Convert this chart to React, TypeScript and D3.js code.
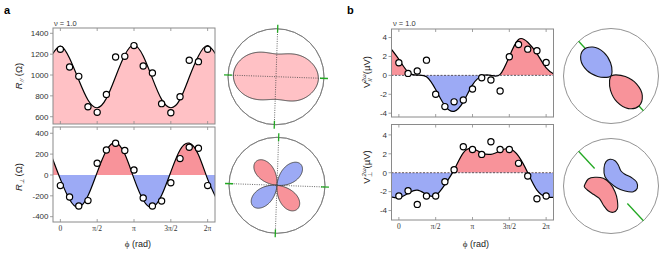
import * as d3 from "d3";

const PI = Math.PI;
const DEG = PI / 180;

// measured points sit at φ = k·π/8, the fitted curves are read on the same grid (one extra step each side)
const pointSteps = [0, 1, 2, 3, 4, 5, 6, 7, 8, 9, 10, 11, 12, 13, 14, 15, 16];
const curveSteps = [-1, 0, 1, 2, 3, 4, 5, 6, 7, 8, 9, 10, 11, 12, 13, 14, 15, 16, 17];

const phiTicks = [0, PI / 2, PI, (3 * PI) / 2, 2 * PI];
const phiTickLabels = ["0", "π/2", "π", "3π/2", "2π"];

const rParTicks = [600, 800, 1000, 1200, 1400];
const rPerpTicks = [-400, -200, 0, 200, 400];
const vTicks = [-4, -2, 0, 2, 4];

// panel a (Ω)
const rParPoints = [1246, 1077, 987, 696, 642, 814, 1173, 1179, 1282, 1086, 1019, 725, 638, 792, 1141, 1128, 1246];
const rParCurve = [1180, 1278, 1160, 952, 760, 686, 776, 984, 1192, 1288, 1182, 968, 766, 686, 766, 978, 1182, 1283, 1180];
const rPerpPoints = [-102, -211, -298, -246, 112, 240, 304, 234, 48, -221, -298, -250, -74, 157, 266, 256, -102];
const rPerpCurve = [190, -40, -235, -310, -200, 25, 235, 310, 200, -35, -240, -310, -195, 30, 240, 305, 195, -40, -235];

// panel b (µV)
const vParPoints = [1.33, 0.21, 0.46, 1.61, -2.0, -3.3, -2.8, -2.6, -1.44, -0.25, -0.49, -1.65, 1.96, 3.26, 2.77, 2.6, 1.37];
const vParCurve = [3.0, 1.7, 0.35, 0.02, -0.15, -1.5, -3.2, -3.8, -2.8, -1.0, -0.07, 0.0, 0.1, 2.0, 3.8, 3.5, 2.3, 0.8, 0.05];
const vPerpPoints = [-2.46, -1.9, -3.35, -2.46, -2.46, -0.95, 0.32, 2.75, 2.46, 1.94, 3.27, 2.46, 2.46, 0.99, -0.35, -2.75, -2.46];
const vPerpCurve = [-2.5, -2.65, -2.2, -1.85, -2.3, -2.4, -1.25, 0.3, 2.1, 2.55, 2.1, 1.95, 2.3, 2.55, 1.75, 0.0, -1.85, -2.55, -2.6];

// polar insets of panel b
const lobeOffsetsDeg = [-90, -75, -60, -45, -30, -15, 0, 15, 30, 45, 60, 75, 90];
const lobeShape = [0, 0.02, 0.12, 0.35, 0.65, 0.9, 1, 0.9, 0.65, 0.35, 0.12, 0.02, 0];
const vParLobeAxesDeg = [137, 313];
const vParLobeLengths = [3.8, 4.1];
const fieldAngleDeg = 133;
const vPerpBlueBean = [
  [-0.1, 2.67], [0.4, 2.53], [0.73, 2.1], [1.0, 1.5], [1.4, 1.17], [2.07, 0.83], [2.57, 0.37], [2.63, -0.23],
  [2.23, -0.57], [1.4, -0.5], [0.57, -0.17], [-0.1, 0.33], [-0.6, 0.93], [-0.7, 1.77], [-0.5, 2.43],
];
const vPerpRedBean = [
  [-2.6, 0.17], [-2.27, 0.7], [-1.6, 0.87], [-0.77, 0.77], [-0.1, 0.27], [0.4, -0.57], [0.63, -1.4], [0.63, -2.3],
  [0.23, -2.63], [-0.27, -2.5], [-0.77, -1.9], [-1.17, -1.23], [-1.77, -0.83], [-2.37, -0.4], [-2.67, -0.07],
];

const PINK = "#ffc1c5";
const RED = "#f8939a";
const BLUE = "#9caaf5";
const FRAME = "#8a8a8a";
const GREEN = "#22a822";
const phiDomain = [-0.314, 2 * PI + 0.314];

type Pt = [number, number];

// same natural spline that d3.curveNatural draws, so the polar insets follow the plotted fit
function naturalSpline(ys: number[], x0: number, h: number) {
  const n = ys.length - 1;
  const M = new Array(n + 1).fill(0);
  const c = new Array(n).fill(0);
  const d = new Array(n).fill(0);
  for (let i = 1; i < n; i++) {
    const rhs = (6 / (h * h)) * (ys[i + 1] - 2 * ys[i] + ys[i - 1]);
    const den = 4 - (i > 1 ? c[i - 1] : 0);
    c[i] = 1 / den;
    d[i] = (rhs - (i > 1 ? d[i - 1] : 0)) / den;
  }
  for (let i = n - 1; i >= 1; i--) M[i] = d[i] - c[i] * M[i + 1];
  return (x: number) => {
    const i = Math.min(n - 1, Math.max(0, Math.floor((x - x0) / h)));
    const a = x0 + (i + 1) * h - x;
    const b = x - (x0 + i * h);
    return (M[i] * a * a * a) / (6 * h) + (M[i + 1] * b * b * b) / (6 * h) +
      (ys[i] / h - (M[i] * h) / 6) * a + (ys[i + 1] / h - (M[i + 1] * h) / 6) * b;
  };
}

const polarAngles = d3.range(0, 360, 1).map((a) => a * DEG);
const curveOnCircle = (curve: number[]) => {
  const f = naturalSpline(curve, (curveSteps[0] * PI) / 8, PI / 8);
  return polarAngles.map(f);
};

type PlotProps = {
  id: string;
  left: number;
  right: number;
  top: number;
  bottom: number;
  yDomain: [number, number];
  yTicks: number[];
  curve: number[];
  points: number[];
  mode: "pink" | "signed";
  zeroLine?: boolean;
  xLabels?: boolean;
};

function Plot(p: PlotProps) {
  const x = d3.scaleLinear().domain(phiDomain).range([p.left, p.right]);
  const y = d3.scaleLinear().domain(p.yDomain).range([p.bottom, p.top]);
  const data: Pt[] = curveSteps.map((k, i) => [(k * PI) / 8, p.curve[i]]);
  const line = d3.line<Pt>().x((d) => x(d[0])).y((d) => y(d[1])).curve(d3.curveNatural);
  const base = p.mode === "pink" ? p.bottom : y(0);
  const area = d3.area<Pt>().x((d) => x(d[0])).y0(base).y1((d) => y(d[1])).curve(d3.curveNatural);
  const w = p.right - p.left;
  const y0 = y(0);

  return (
    <g>
      <defs>
        <clipPath id={`${p.id}-plot`}>
          <rect x={p.left} y={p.top} width={w} height={p.bottom - p.top} />
        </clipPath>
        <clipPath id={`${p.id}-pos`}>
          <rect x={p.left} y={p.top} width={w} height={y0 - p.top} />
        </clipPath>
        <clipPath id={`${p.id}-neg`}>
          <rect x={p.left} y={y0} width={w} height={p.bottom - y0} />
        </clipPath>
      </defs>
      {p.mode === "pink" ? (
        <path d={area(data) ?? ""} fill={PINK} clipPath={`url(#${p.id}-plot)`} />
      ) : (
        <>
          <path d={area(data) ?? ""} fill={RED} clipPath={`url(#${p.id}-pos)`} />
          <path d={area(data) ?? ""} fill={BLUE} clipPath={`url(#${p.id}-neg)`} />
        </>
      )}
      {p.zeroLine && (
        <line x1={p.left} x2={p.right} y1={y0} y2={y0} stroke="#222" strokeWidth={0.7} strokeDasharray="2,1.5" />
      )}
      <path d={line(data) ?? ""} fill="none" stroke="#000" strokeWidth={1.2} clipPath={`url(#${p.id}-plot)`} />
      <rect x={p.left} y={p.top} width={w} height={p.bottom - p.top} fill="none" stroke={FRAME} strokeWidth={1} />
      {phiTicks.map((t) => (
        <g key={t} stroke={FRAME} strokeWidth={0.8}>
          <line x1={x(t)} x2={x(t)} y1={p.top} y2={p.top + 3} />
          <line x1={x(t)} x2={x(t)} y1={p.bottom} y2={p.bottom - 3} />
        </g>
      ))}
      {p.yTicks.map((t) => (
        <g key={t}>
          <line x1={p.left - 3} x2={p.left} y1={y(t)} y2={y(t)} stroke={FRAME} strokeWidth={0.8} />
          <text x={p.left - 4.5} y={y(t)} dy="0.35em" fontSize={8} textAnchor="end" fill="#333">
            {t}
          </text>
        </g>
      ))}
      {p.xLabels &&
        phiTicks.map((t, i) => (
          <text key={t} x={x(t)} y={p.bottom + 9} fontSize={7.5} textAnchor="middle"
            fontFamily="Liberation Serif, Times New Roman, serif" fill="#333">
            {phiTickLabels[i]}
          </text>
        ))}
      {pointSteps.map((k, i) => (
        <circle key={k} cx={x((k * PI) / 8)} cy={y(p.points[i])} r={3.1} fill="#fff" stroke="#000" strokeWidth={1.2} />
      ))}
    </g>
  );
}

const polar = (theta: number, r: number): Pt => [r * Math.cos(theta), -r * Math.sin(theta)];

function PolarFrame({ R, axesRot }: { R: number; axesRot?: number }) {
  return (
    <g>
      <circle r={R} fill="none" stroke="#777" strokeWidth={0.8} />
      {axesRot !== undefined &&
        [0, 1].map((m) => {
          const a = polar(axesRot + m * (PI / 2), R);
          return (
            <line key={m} x1={-a[0]} y1={-a[1]} x2={a[0]} y2={a[1]} stroke="#444" strokeWidth={0.8} strokeDasharray="1,1.3" />
          );
        })}
    </g>
  );
}

function GreenTicks({ R, rot }: { R: number; rot: number }) {
  return (
    <g stroke={GREEN} strokeWidth={1.3}>
      {[0, 1, 2, 3].map((m) => {
        const a = polar(rot + (m * PI) / 2, R - 4);
        const b = polar(rot + (m * PI) / 2, R + 4);
        return <line key={m} x1={a[0]} y1={a[1]} x2={b[0]} y2={b[1]} />;
      })}
    </g>
  );
}

// split a periodic signed sample set into single-sign lobes, closing each one at the origin
function signedLobes(values: number[], rot: number) {
  const n = values.length;
  const step = (2 * PI) / n;
  const s0 = values.findIndex((v, i) => v >= 0 !== values[(i + n - 1) % n] >= 0);
  const out: { sign: number; pts: Pt[] }[] = [];
  let cur: { sign: number; pts: Pt[] } | null = null;
  for (let j = 0; j <= n; j++) {
    const i = s0 + j;
    const a = values[(i - 1 + n) % n];
    const b = values[i % n];
    if (a >= 0 !== b >= 0) {
      const th = (i - 1 + a / (a - b)) * step + rot;
      if (cur) {
        cur.pts.push([th, 0]);
        out.push(cur);
      }
      if (j === n) break;
      cur = { sign: b >= 0 ? 1 : -1, pts: [[th, 0]] };
    }
    cur!.pts.push([i * step + rot, Math.abs(b)]);
  }
  return out;
}

function PolarRPar({ cx, cy, R }: { cx: number; cy: number; R: number }) {
  const rot = -2 * DEG;
  const rs = d3.scaleLinear().domain([0, 1450]).range([0, R]);
  const vals = curveOnCircle(rParCurve);
  const pts = vals.map((v, i) => polar(polarAngles[i] + rot, rs(v)));
  const path = d3.line().curve(d3.curveLinearClosed)(pts) ?? "";
  return (
    <g transform={`translate(${cx},${cy})`}>
      <PolarFrame R={R} />
      <path d={path} fill={PINK} stroke="#444" strokeWidth={1} />
      <PolarFrame R={R} axesRot={rot} />
      <GreenTicks R={R} rot={rot} />
    </g>
  );
}

function PolarRPerp({ cx, cy, R }: { cx: number; cy: number; R: number }) {
  const rot = -2 * DEG;
  const rs = d3.scaleLinear().domain([0, 470]).range([0, R]);
  const lobes = signedLobes(curveOnCircle(rPerpCurve), rot);
  const line = d3.line();
  return (
    <g transform={`translate(${cx},${cy})`}>
      <PolarFrame R={R} />
      {lobes.map((l, i) => (
        <path key={i} d={(line(l.pts.map((q) => polar(q[0], rs(q[1])))) ?? "") + "Z"}
          fill={l.sign > 0 ? RED : BLUE} stroke="#444" strokeWidth={0.9} strokeLinejoin="round" />
      ))}
      <PolarFrame R={R} axesRot={rot} />
      <GreenTicks R={R} rot={rot} />
    </g>
  );
}

function PolarVPar({ cx, cy, R }: { cx: number; cy: number; R: number }) {
  const rs = d3.scaleLinear().domain([0, 4.75]).range([0, R]);
  const line = d3.line().curve(d3.curveCatmullRom);
  const fa = fieldAngleDeg * DEG;
  return (
    <g transform={`translate(${cx},${cy})`}>
      <PolarFrame R={R} />
      {[0, 1].map((m) => {
        const a = polar(fa + m * PI, rs(3.8));
        const b = polar(fa + m * PI, R);
        return <line key={m} x1={a[0]} y1={a[1]} x2={b[0]} y2={b[1]} stroke={GREEN} strokeWidth={1.3} />;
      })}
      {vParLobeAxesDeg.map((ax, j) => {
        const pts = lobeOffsetsDeg.map((o, i) => polar((ax + o) * DEG, rs(vParLobeLengths[j] * lobeShape[i])));
        return <path key={j} d={(line(pts) ?? "") + "Z"} fill={j === 0 ? BLUE : RED} stroke="#111" strokeWidth={1.1} />;
      })}
    </g>
  );
}

function PolarVPerp({ cx, cy, R }: { cx: number; cy: number; R: number }) {
  const rs = d3.scaleLinear().domain([0, 4.75]).range([0, R]);
  const line = d3.line().curve(d3.curveCatmullRomClosed);
  const fa = fieldAngleDeg * DEG;
  const toXY = (q: number[]): Pt => [rs(q[0]), -rs(q[1])];
  return (
    <g transform={`translate(${cx},${cy})`}>
      <PolarFrame R={R} />
      {[0, 1].map((m) => {
        const a = polar(fa + m * PI, rs(2.4));
        const b = polar(fa + m * PI, R);
        return <line key={m} x1={a[0]} y1={a[1]} x2={b[0]} y2={b[1]} stroke={GREEN} strokeWidth={1.3} />;
      })}
      <path d={line(vPerpBlueBean.map(toXY)) ?? ""} fill={BLUE} stroke="#111" strokeWidth={1.1} />
      <path d={line(vPerpRedBean.map(toXY)) ?? ""} fill={RED} stroke="#111" strokeWidth={1.1} />
    </g>
  );
}

function YLabel({ x, y, main, sub, sup, unit, italic }: {
  x: number; y: number; main: string; sub: string; sup?: string; unit: string; italic?: boolean;
}) {
  return (
    <text transform={`translate(${x},${y}) rotate(-90)`} textAnchor="middle" fontSize={9.5} fill="#222">
      <tspan fontStyle={italic ? "italic" : "normal"}>{main}</tspan>
      <tspan fontSize={6} dy={2} fontStyle={italic ? "italic" : "normal"}>{sub}</tspan>
      {sup && (
        <tspan fontSize={6} dx={-4} dy={-6.5} fontStyle="italic">{sup}</tspan>
      )}
      <tspan dy={sup ? 4.5 : -2}>{sup ? unit : " " + unit}</tspan>
    </text>
  );
}

export default function App() {
  const serif = "Liberation Serif, Times New Roman, serif";
  return (
    <div style={{ position: "absolute", left: 0, top: 0 }}>
      <svg width={665} height={256} fontFamily="Liberation Sans, Arial, Helvetica, sans-serif">
        <rect width={665} height={256} fill="#fff" />

        {/* panel a */}
        <text x={4} y={14} fontSize={11} fontWeight="bold">a</text>
        <text x={54} y={25.5} fontSize={7.5} fill="#333">ν = 1.0</text>
        <Plot id="rpar" left={53} right={215} top={28} bottom={124} yDomain={[530, 1451]} yTicks={rParTicks}
          curve={rParCurve} points={rParPoints} mode="pink" />
        <Plot id="rperp" left={53} right={215} top={127} bottom={222} yDomain={[-451, 460]} yTicks={rPerpTicks}
          curve={rPerpCurve} points={rPerpPoints} mode="signed" xLabels />
        <YLabel x={22} y={76} main="R" sub="//" unit="(Ω)" italic />
        <YLabel x={22} y={177} main="R" sub="⊥" unit="(Ω)" italic />
        <text x={138} y={247} fontSize={9} textAnchor="middle" fill="#222">
          <tspan fontFamily={serif}>ϕ</tspan> (rad)
        </text>
        <PolarRPar cx={276} cy={76.7} R={48} />
        <PolarRPerp cx={277} cy={185.3} R={48} />

        {/* panel b */}
        <text x={347} y={14} fontSize={11} fontWeight="bold">b</text>
        <text x={393} y={25.5} fontSize={7.5} fill="#333">ν = 1.0</text>
        <Plot id="vpar" left={391.5} right={553.5} top={29} bottom={117} yDomain={[-4.4, 4.9]} yTicks={vTicks}
          curve={vParCurve} points={vParPoints} mode="signed" zeroLine />
        <Plot id="vperp" left={391.5} right={553.5} top={124.5} bottom={220} yDomain={[-5, 5.1]} yTicks={vTicks}
          curve={vPerpCurve} points={vPerpPoints} mode="signed" zeroLine xLabels />
        <YLabel x={370} y={72} main="V" sub="//" sup="2ω" unit="(µV)" />
        <YLabel x={370} y={167} main="V" sub="⊥" sup="2ω" unit="(µV)" />
        <text x={476} y={247} fontSize={9} textAnchor="middle" fill="#222">
          <tspan fontFamily={serif}>ϕ</tspan> (rad)
        </text>
        <PolarVPar cx={611} cy={76} R={47.5} />
        <PolarVPerp cx={611} cy={186} R={47.5} />
      </svg>
    </div>
  );
}
